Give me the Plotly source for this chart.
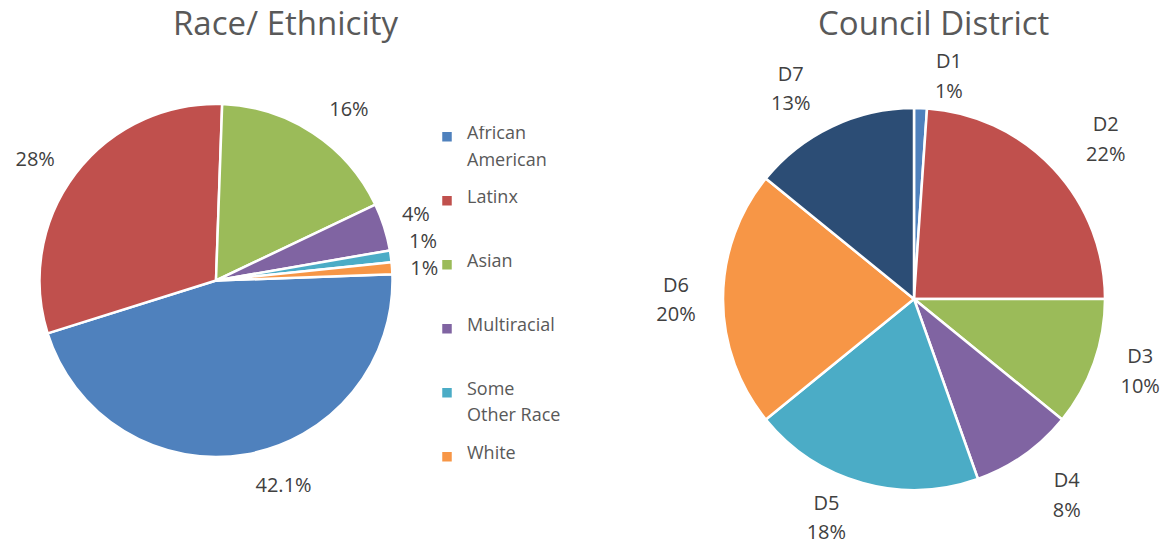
import plotly.graph_objects as go

# Race / Ethnicity
race_labels = ["African<br>American", "Latinx", "Asian", "Multiracial", "Some<br>Other Race", "White"]
race_values = [42.1, 28, 16, 4, 1, 1]
race_text = ["42.1%", "28%", "16%", "4%", "1%", "1%"]
race_colors = ["#4F81BD", "#C0504D", "#9BBB59", "#8064A2", "#4BACC6", "#F79646"]

# Council District
district_labels = ["D1", "D2", "D3", "D4", "D5", "D6", "D7"]
district_values = [1, 22, 10, 8, 18, 20, 13]
district_text = ["1%", "22%", "10%", "8%", "18%", "20%", "13%"]
district_colors = ["#4F81BD", "#C0504D", "#9BBB59", "#8064A2", "#4BACC6", "#F79646", "#2C4D75"]

FONT = "Open Sans"
TXT = "#404040"
W, H = 1162, 548
CLEAR = "rgba(0,0,0,0)"

LEFT_C = (216, 280.5, 176.5)
RIGHT_C = (914, 299, 191)
LEFT_ROT = 88
RIGHT_ROT = 0


def legend_label(s):
    # each visible line is followed by two spacer lines; entries padded to 7 lines
    out = []
    for p in s.split("<br>"):
        out.append('<span style="font-size:18px">%s</span>' % p)
        out += ["\u00a0", "\u00a0"]
    out += ["\u00a0"] * (7 - len(out))
    return "<br>".join(out[:7])


def dom(cx, cy, r):
    return dict(x=[(cx - r) / W, (cx + r) / W], y=[1 - (cy + r) / H, 1 - (cy - r) / H])


def span(s):
    return '<span style="font-size:20px;color:%s;fill-opacity:1">%s</span>' % (TXT, s)


def label_ring(labels, values, text, show, template, rot, center, r, base_size):
    """Transparent ring of the same slices that only carries the data labels."""
    cx, cy, _ = center
    return go.Pie(
        labels=labels, values=values, text=text,
        texttemplate=template,
        textposition=["outside" if i in show else "none" for i in range(len(values))],
        sort=False, direction="clockwise", rotation=rot,
        marker=dict(colors=[CLEAR] * len(values), line=dict(width=0)),
        outsidetextfont=dict(family=FONT, size=base_size, color=CLEAR),
        domain=dom(cx, cy, r),
        showlegend=False, hoverinfo="skip",
    )


fig = go.Figure()

# left pie (slices)
fig.add_trace(go.Pie(
    labels=[legend_label(l) for l in race_labels],
    values=race_values,
    text=race_text,
    textinfo="none",
    sort=False,
    direction="clockwise",
    rotation=LEFT_ROT,
    marker=dict(colors=race_colors, line=dict(color="white", width=2.5)),
    domain=dom(*LEFT_C),
    showlegend=True,
    hoverinfo="label+text",
))
left_tpl = span("%{text}")
fig.add_trace(label_ring(race_labels, race_values, race_text, [0, 1, 2],
                         left_tpl, LEFT_ROT, LEFT_C, 194, 20))
fig.add_trace(label_ring(race_labels, race_values, race_text, [3, 4, 5],
                         left_tpl, LEFT_ROT, LEFT_C, 188, 24))

# right pie (slices)
fig.add_trace(go.Pie(
    labels=district_labels,
    values=district_values,
    text=district_text,
    textinfo="none",
    sort=False,
    direction="clockwise",
    rotation=RIGHT_ROT,
    marker=dict(colors=district_colors, line=dict(color="white", width=2.5)),
    domain=dom(*RIGHT_C),
    showlegend=False,
    hoverinfo="label+text",
))
right_tpl = span("%{label}") + "<br>" + span("%{text}")
for show, rad in [([0], 195), ([1, 3], 216), ([2, 5], 204), ([4], 199), ([6], 208)]:
    fig.add_trace(label_ring(district_labels, district_values, district_text, show,
                             right_tpl, RIGHT_ROT, RIGHT_C, rad, 23))

fig.update_layout(
    width=W, height=H,
    margin=dict(l=0, r=0, t=0, b=0, autoexpand=False),
    paper_bgcolor="white",
    font=dict(family=FONT, color="#595959"),
    legend=dict(
        x=427 / W, y=1 - 126 / H, xanchor="left", yanchor="top",
        font=dict(family=FONT, size=6.7, color="#595959"),
        valign="top",
        bgcolor=CLEAR,
    ),
    annotations=[
        dict(text="Race/ Ethnicity", x=285.5 / W, y=1 - 22 / H, xref="paper", yref="paper",
             xanchor="center", yanchor="middle", showarrow=False,
             font=dict(family=FONT, size=33, color="#595959")),
        dict(text="Council District", x=933 / W, y=1 - 22 / H, xref="paper", yref="paper",
             xanchor="center", yanchor="middle", showarrow=False,
             font=dict(family=FONT, size=33, color="#595959")),
    ],
)

fig.write_html("out.html",
               config={"responsive": False, "displayModeBar": False},
               post_script="document.body.style.margin='0';")
